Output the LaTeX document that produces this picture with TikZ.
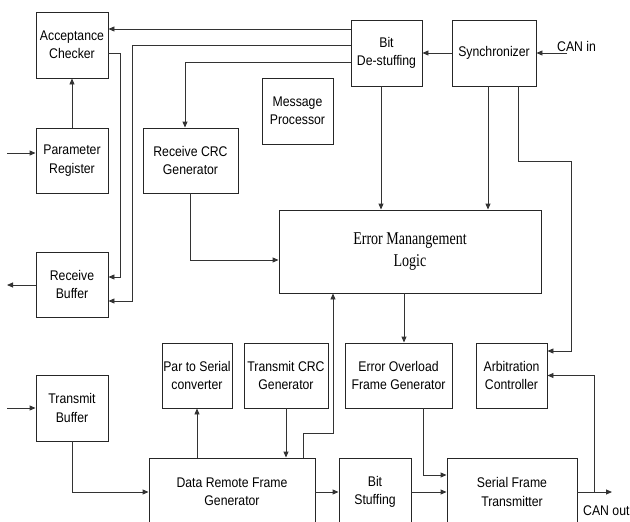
\documentclass[tikz,border=0pt]{standalone}
\usepackage{fontspec}
\usetikzlibrary{arrows.meta}
\newfontfamily\boxfont{Liberation Sans}[FakeStretch=0.875]
\newfontfamily\emlfont{Liberation Serif}[FakeStretch=0.78]
\begin{document}
\begin{tikzpicture}[x=1pt,y=-1pt,
  blk/.style={draw=black!85, line width=0.9pt, inner sep=0pt, align=center,
    font=\boxfont\fontsize{14}{18.3}\selectfont},
  wire/.style={draw=black!80, line width=0.9pt},
  arr/.style={wire, -{Triangle[length=6pt,width=5pt]}},
  lbl/.style={inner sep=0pt, font=\boxfont\fontsize{14}{16}\selectfont}]
\useasboundingbox (0,0) rectangle (630,522);
\clip (0,0) rectangle (630,522);

% blocks
\node[blk, minimum width=72pt, minimum height=66pt] (AC) at (72,45) {Acceptance\\Checker};
\node[blk, minimum width=72pt, minimum height=65pt] (PR) at (72,160.5) {Parameter\\Register};
\node[blk, minimum width=72pt, minimum height=65pt] (RB) at (72,284.5) {Receive\\Buffer};
\node[blk, minimum width=72pt, minimum height=66pt] (TB) at (72,408) {Transmit\\Buffer};
\node[blk, minimum width=95pt, minimum height=65pt] (RCG) at (190.5,160.5) {Receive CRC\\Generator};
\node[blk, minimum width=71pt, minimum height=66pt] (MP) at (297.5,111) {Message\\Processor};
\node[blk, minimum width=71pt, minimum height=66pt] (BDS) at (386.5,53) {Bit\\De-stuffing};
\node[blk, minimum width=84pt, minimum height=66pt] (SYN) at (494,53) {Synchronizer};
\node[blk, minimum width=262pt, minimum height=83pt,
  font=\emlfont\fontsize{18}{21.7}\selectfont] (EML) at (410,251.5) {Error Manangement\\Logic};
\node[blk, minimum width=70pt, minimum height=65pt] (PSC) at (197,375.5) {Par to Serial\\converter};
\node[blk, minimum width=84pt, minimum height=65pt] (TCG) at (286,375.5) {Transmit CRC\\Generator};
\node[blk, minimum width=107pt, minimum height=65pt] (EOF) at (398.5,375.5) {Error Overload\\Frame Generator};
\node[blk, minimum width=71pt, minimum height=65pt] (ARB) at (511.5,375.5) {Arbitration\\Controller};
\node[blk, minimum width=166pt, minimum height=68pt] (DRF) at (232,492) {Data Remote Frame\\Generator};
\node[blk, minimum width=72pt, minimum height=68pt] (BS) at (375,492) {Bit\\Stuffing};
\node[blk, minimum width=130pt, minimum height=68pt] (SFT) at (512,492) {Serial Frame\\Transmitter};

% helper coordinates
\coordinate (y29) at (0,29);
\coordinate (y45) at (0,45);
\coordinate (y62) at (0,62);
\coordinate (y277) at (0,277);
\coordinate (y301) at (0,301);
\coordinate (y351) at (0,351);
\coordinate (k45) at (132,45);
\coordinate (k53) at (120,53);
\coordinate (k161) at (571,161);
\coordinate (k433) at (333,433);
\coordinate (x185) at (185,0);
\coordinate (x381) at (381,0);
\coordinate (x488) at (488,0);
\coordinate (x518) at (518,0);
\coordinate (x303) at (303,0);
\coordinate (x333) at (333,0);
\coordinate (x404) at (404,0);
\coordinate (x423) at (423,0);
\coordinate (x197) at (197,0);
\coordinate (x286) at (286,0);
\coordinate (inPR) at (7,153);
\coordinate (outRB) at (7,285);
\coordinate (inTB) at (7,408);
\coordinate (canin) at (567,53);
\coordinate (canout) at (612,492);
\coordinate (tap) at (594,492);

% connectors
\draw[arr] (BDS.west |- y29) -- (AC.east |- y29);
\draw[arr] (BDS.west |- y45) -- (k45) |- (RB.east |- y301);
\draw[arr] (BDS.west |- y62) -| (RCG.north -| x185);
\draw[arr] (AC.east |- k53) -- (k53) |- (RB.east |- y277);
\draw[arr] (PR.north) -- (AC.south);
\draw[arr] (inPR) -- (PR.west |- inPR);
\draw[arr] (RB.west |- outRB) -- (outRB);
\draw[arr] (inTB) -- (TB.west);
\draw[arr] (RCG.south) |- ([yshift=-8.5pt]EML.west);
\draw[arr] (BDS.south -| x381) -- (EML.north -| x381);
\draw[arr] (SYN.south -| x488) -- (EML.north -| x488);
\draw[arr] (SYN.south -| x518) |- (k161) |- (ARB.east |- y351);
\draw[arr] (SYN.west) -- (BDS.east);
\draw[arr] (canin) -- (SYN.east);
\draw[arr] (EML.south -| x404) -- (EOF.north -| x404);
\draw[arr] (DRF.north -| x303) |- (k433) -- (EML.south -| x333);
\draw[arr] (TCG.south -| x286) -- (DRF.north -| x286);
\draw[arr] (DRF.north -| x197) -- (PSC.south -| x197);
\draw[arr] (TB.south) |- (DRF.west);
\draw[arr] (DRF.east) -- (BS.west);
\draw[arr] (BS.east) -- (SFT.west);
\draw[arr] (EOF.south -| x423) |- ([yshift=17pt]SFT.west);
\draw[arr] (SFT.east) -- (canout);
\draw[arr] (tap) |- (ARB.east);

% labels
\node[lbl, anchor=base west] (lin) at (557,52) {CAN in};
\node[lbl, anchor=base west] (lout) at (583,515) {CAN out};
\end{tikzpicture}
\end{document}
